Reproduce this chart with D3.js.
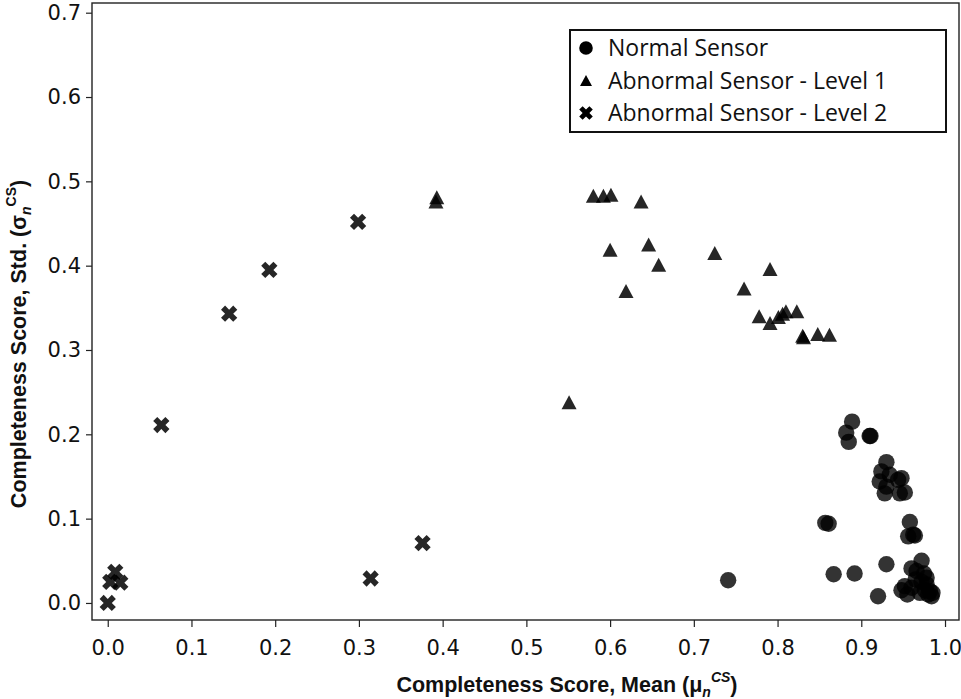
<!DOCTYPE html>
<html>
<head>
<meta charset="utf-8">
<script src="https://cdn.jsdelivr.net/npm/d3@7"></script>
<style>
  html, body { margin: 0; padding: 0; background: #fff; }
  svg { display: block; }
</style>
</head>
<body>
<svg id="chart" width="961" height="699"></svg>
<script>
// Completeness score statistics per sensor: [mean, std]
const normalSensor = [
  [0.741,0.027],[0.857,0.095],[0.861,0.094],[0.867,0.034],[0.892,0.035],
  [0.889,0.215],[0.882,0.202],[0.885,0.191],[0.910,0.198],[0.911,0.198],
  [0.920,0.008],[0.930,0.046],[0.930,0.167],[0.924,0.156],[0.934,0.152],
  [0.922,0.144],[0.928,0.130],[0.930,0.138],[0.944,0.146],[0.948,0.148],
  [0.946,0.130],[0.952,0.131],[0.958,0.096],[0.956,0.079],[0.962,0.081],
  [0.964,0.080],[0.972,0.050],[0.960,0.041],[0.966,0.038],[0.948,0.015],
  [0.952,0.020],[0.955,0.010],[0.960,0.018],[0.965,0.028],[0.970,0.012],
  [0.972,0.025],[0.975,0.035],[0.976,0.015],[0.978,0.022],[0.980,0.010],
  [0.982,0.014],[0.984,0.008],[0.978,0.030],[0.985,0.012]
];
const abnormalLevel1 = [
  [0.393,0.481],[0.392,0.476],[0.551,0.238],[0.580,0.483],[0.592,0.483],
  [0.601,0.484],[0.637,0.476],[0.600,0.419],[0.646,0.425],[0.658,0.401],
  [0.619,0.370],[0.725,0.415],[0.791,0.396],[0.760,0.373],[0.778,0.340],
  [0.791,0.332],[0.801,0.339],[0.806,0.343],[0.810,0.346],[0.823,0.346],
  [0.830,0.317],[0.831,0.315],[0.848,0.319],[0.862,0.318]
];
const abnormalLevel2 = [
  [0.000,0.000],[0.009,0.037],[0.003,0.025],[0.015,0.024],[0.064,0.211],
  [0.145,0.343],[0.193,0.395],[0.299,0.452],[0.314,0.029],[0.376,0.071]
];
const xTicks = [0, 0.1, 0.2, 0.3, 0.4, 0.5, 0.6, 0.7, 0.8, 0.9, 1.0];
const yTicks = [0, 0.1, 0.2, 0.3, 0.4, 0.5, 0.6, 0.7];
const legendLabels = ["Normal Sensor", "Abnormal Sensor - Level 1", "Abnormal Sensor - Level 2"];

const svg = d3.select("#chart");
const plot = { left: 92, top: 3, right: 959, bottom: 620 };

const x = d3.scaleLinear().domain([-0.0188, 1.0167]).range([plot.left, plot.right]);
const y = d3.scaleLinear().domain([-0.0202, 0.7115]).range([plot.bottom, plot.top]);

// Marker shapes
function circlePath(r) { return d3.symbol(d3.symbolCircle, Math.PI * r * r)(); }
function trianglePath(hw, h) {
  return `M${-hw},${h / 2}H${hw}L0,${-h / 2}Z`;
}
function crossPath(r) {
  const rx = +(r * 0.8 / Math.SQRT2).toFixed(2);
  const ne = `l${rx},${rx}`, se = `l${rx},-${rx}`, sw = `l-${rx},-${rx}`, nw = `l-${rx},${rx}`;
  return `M0,${rx}${ne}${se}${sw}${se}${sw}${nw}${sw}${nw}${ne}${nw}${ne}Z`;
}

// Axes
const fontTick = "'DejaVu Sans', Verdana, sans-serif";
const xAxis = d3.axisBottom(x).tickValues(xTicks).tickFormat(d3.format(".1f")).tickSize(7).tickPadding(13);
const yAxis = d3.axisLeft(y).tickValues(yTicks).tickFormat(d3.format(".1f")).tickSize(6).tickPadding(5);

const gx = svg.append("g").attr("transform", `translate(0,${plot.bottom})`).call(xAxis);
const gy = svg.append("g").attr("transform", `translate(${plot.left},0)`).call(yAxis);
[gx, gy].forEach(g => {
  g.select(".domain").remove();
  g.selectAll(".tick line").attr("stroke", "#222").attr("stroke-width", 1.2);
  g.selectAll(".tick text").attr("fill", "#111").style("font-family", fontTick).style("font-size", "21px");
});

// Points
const pts = svg.append("g");
pts.selectAll("path.normal").data(normalSensor).join("path")
  .attr("class", "normal")
  .attr("d", circlePath(8.2))
  .attr("transform", d => `translate(${x(d[0])},${y(d[1])})`)
  .attr("fill", "#000").attr("fill-opacity", 0.8);
pts.selectAll("path.lvl1").data(abnormalLevel1).join("path")
  .attr("class", "lvl1")
  .attr("d", trianglePath(7.5, 14))
  .attr("transform", d => `translate(${x(d[0])},${y(d[1])})`)
  .attr("fill", "#000").attr("fill-opacity", 0.85);
pts.selectAll("path.lvl2").data(abnormalLevel2).join("path")
  .attr("class", "lvl2")
  .attr("d", crossPath(7.2))
  .attr("transform", d => `translate(${x(d[0])},${y(d[1])})`)
  .attr("fill", "#000").attr("fill-opacity", 0.85);

// Plot frame
svg.append("rect")
  .attr("x", plot.left).attr("y", plot.top)
  .attr("width", plot.right - plot.left).attr("height", plot.bottom - plot.top)
  .attr("fill", "none").attr("stroke", "#222").attr("stroke-width", 1.4);

// Legend
const legend = svg.append("g");
legend.append("rect")
  .attr("x", 570).attr("y", 30).attr("width", 376).attr("height", 102)
  .attr("fill", "#fff").attr("stroke", "#111").attr("stroke-width", 2);
const legendShapes = [circlePath(6.8), trianglePath(6, 11), crossPath(6)];
legendLabels.forEach((lab, i) => {
  const cy = 48 + i * 32.5;
  legend.append("path").attr("d", legendShapes[i])
    .attr("transform", `translate(586,${cy})`).attr("fill", "#000");
  legend.append("text").attr("x", 608).attr("y", cy).attr("dy", "0.36em")
    .style("font-family", "'Open Sans', 'Noto Sans', sans-serif")
    .style("font-size", "23px").attr("fill", "#111").text(lab);
});

// Axis titles
const titleFont = "'Liberation Sans', Arial, sans-serif";
const xt = svg.append("text").attr("x", 567).attr("y", 692).attr("text-anchor", "middle")
  .style("font-family", titleFont).style("font-size", "21.5px").style("font-weight", "bold").attr("fill", "#111");
xt.append("tspan").text("Completeness Score, Mean (μ");
xt.append("tspan").attr("font-style", "italic").attr("font-size", "14px").attr("dy", 5).text("n");
xt.append("tspan").attr("font-style", "italic").attr("font-size", "14px").attr("dy", -15).text("CS");
xt.append("tspan").attr("dy", 10).text(")");

const yt = svg.append("text").attr("transform", "translate(26,344) rotate(-90)").attr("text-anchor", "middle")
  .style("font-family", titleFont).style("font-size", "21.5px").style("font-weight", "bold").attr("fill", "#111");
yt.append("tspan").text("Completeness Score, Std. (σ");
yt.append("tspan").attr("font-style", "italic").attr("font-size", "14px").attr("dy", 5).text("n");
yt.append("tspan").attr("font-size", "14px").attr("dy", -15).text("CS");
yt.append("tspan").attr("dy", 10).text(")");
</script>
</body>
</html>
